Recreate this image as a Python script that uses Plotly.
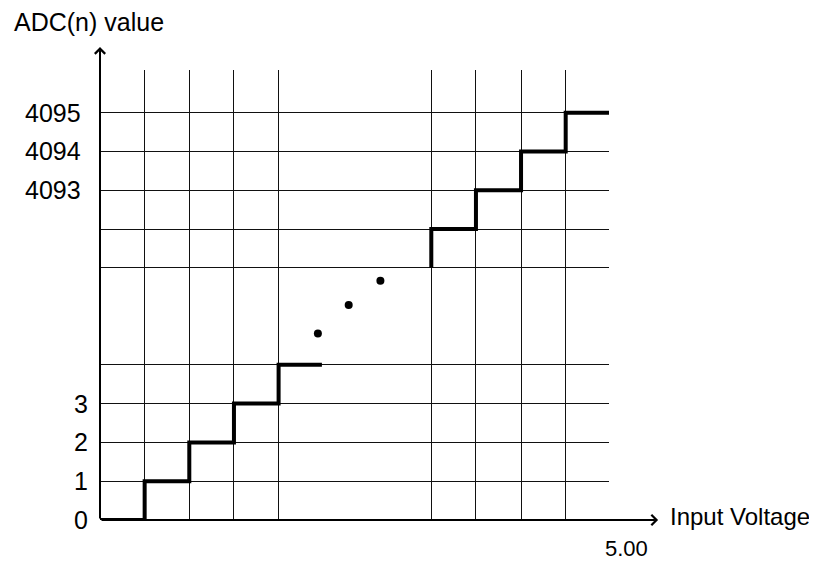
import plotly.graph_objects as go

# grid positions (axis units); the gap between 4 and the upper block is the "break"
x_grid = [0, 1, 2, 3, 4, 7.42, 8.42, 9.43, 10.43, 11.4]
y_grid = [0, 1, 2, 3, 4, 6.5, 7.5, 8.5, 9.5, 10.5, 11.6]

# lower staircase: codes 0..4
low_x = [0, 1, 2, 3, 4, 4.97]
low_y = [0, 1, 2, 3, 4, 4]

# upper staircase: codes up to 4095
high_x = [7.42, 8.42, 9.43, 10.43, 11.4]
high_y = [6.5, 7.5, 8.5, 9.5, 10.5]

# ellipsis dots between the two blocks
dot_x = [4.88, 5.57, 6.28]
dot_y = [4.81, 5.54, 6.17]

# y labels
low_ticks = [0, 1, 2, 3]
low_text = ["0", "1", "2", "3"]
high_ticks = [8.5, 9.5, 10.5]
high_text = ["4093", "4094", "4095"]

FONT = "Liberation Sans, Arial, sans-serif"
INK = "#000000"
FS = 25

fig = go.Figure()

fig.add_trace(go.Scatter(
    x=low_x, y=low_y, mode="lines", line_shape="hv",
    line=dict(color=INK, width=4), hoverinfo="skip",
))
fig.add_trace(go.Scatter(
    x=high_x, y=high_y, mode="lines", line_shape="vh",
    line=dict(color=INK, width=4), hoverinfo="skip",
))
fig.add_trace(go.Scatter(
    x=dot_x, y=dot_y, mode="markers",
    marker=dict(color=INK, size=8), hoverinfo="skip",
))

ann = []
# axis arrows
ann.append(dict(x=0, y=12.19, ax=0, ay=0, xref="x", yref="y", axref="x", ayref="y",
                text="", showarrow=True, arrowhead=4, arrowwidth=2, arrowsize=1,
                arrowcolor=INK))
ann.append(dict(x=12.5, y=0, ax=0, ay=0, xref="x", yref="y", axref="x", ayref="y",
                text="", showarrow=True, arrowhead=4, arrowwidth=2, arrowsize=1,
                arrowcolor=INK))

# y labels
for v, t in zip(low_ticks, low_text):
    ann.append(dict(x=0, y=v, xref="x", yref="y", text=t, showarrow=False,
                    xanchor="right", yanchor="middle", xshift=-10,
                    font=dict(size=FS, color=INK, family=FONT)))
for v, t in zip(high_ticks, high_text):
    ann.append(dict(x=0, y=v, xref="x", yref="y", text=t, showarrow=False,
                    xanchor="right", yanchor="middle", xshift=-17,
                    font=dict(size=FS, color=INK, family=FONT)))

# axis titles and the 5.00 mark (paper coords, they sit outside the data range)
ann.append(dict(x=-0.173, y=1.1067, xref="paper", yref="paper", text="ADC(n) value",
                showarrow=False, xanchor="left", yanchor="middle",
                font=dict(size=FS, color=INK, family=FONT)))
ann.append(dict(x=1.1159, y=0.0067, xref="paper", yref="paper", text="Input Voltage",
                showarrow=False, xanchor="left", yanchor="middle",
                font=dict(size=24, color=INK, family=FONT)))
ann.append(dict(x=1.0334, y=-0.064, xref="paper", yref="paper", text="5.00",
                showarrow=False, xanchor="center", yanchor="middle",
                font=dict(size=22, color=INK, family=FONT)))

fig.update_layout(
    width=817, height=562,
    margin=dict(l=92, r=216, t=62, b=50),
    paper_bgcolor="white", plot_bgcolor="white",
    showlegend=False,
    annotations=ann,
    font=dict(family=FONT, color=INK),
)
fig.update_xaxes(range=[0, 11.4], tickvals=x_grid, showticklabels=False, ticks="",
                 showgrid=True, gridcolor="#111", gridwidth=1, zeroline=False,
                 showline=False, fixedrange=True)
fig.update_yaxes(range=[0, 11.6], tickvals=y_grid, showticklabels=False, ticks="",
                 showgrid=True, gridcolor="#111", gridwidth=1, zeroline=False,
                 showline=False, fixedrange=True)

fig.write_html("out.html")
